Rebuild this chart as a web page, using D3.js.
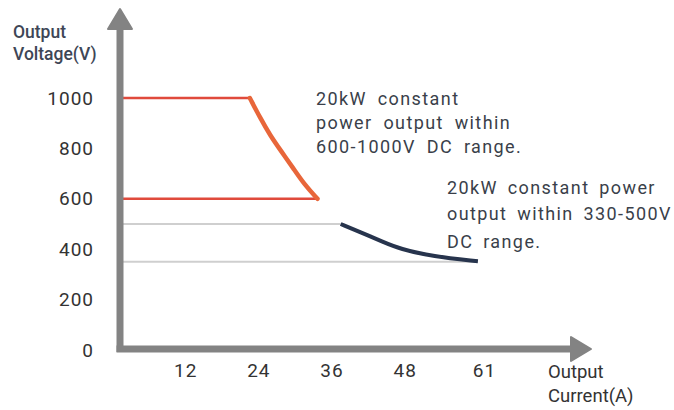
<!DOCTYPE html>
<html>
<head>
<meta charset="utf-8">
<script src="https://cdn.jsdelivr.net/npm/d3@7"></script>
<style>
  body { margin: 0; background: #fff; }
  text { font-family: Roboto, "Noto Sans", sans-serif; }
  .tick text { fill: #333; font-size: 19px; letter-spacing: 1px; }
</style>
</head>
<body>
<svg id="chart" width="674" height="410"></svg>
<script>
// values
var voltTicks = [0, 200, 400, 600, 800, 1000];
var currTicks = [12, 24, 36, 48, 61];

// 600-1000V range: flat top, constant power curve, flat bottom
var highTop = [[0, 1000], [22.6, 1000]];
var highCurve = [[22.6, 1000], [24.3, 921], [25.9, 853], [27.8, 787], [29.7, 722], [31.6, 655], [33.7, 600]];
var highBottom = [[0, 600], [33.7, 600]];

// 330-500V range
var lowCurve = [[37.5, 500], [40.7, 468], [44.4, 429], [47.2, 401], [52.6, 371], [60, 352]];
var lowGuides = [[[0, 500], [37.5, 500]], [[0, 350], [60, 350]]];

var note1 = ["20kW constant", "power output within", "600-1000V DC range."];
var note2 = ["20kW constant power", "output within 330-500V", "DC range."];

var svg = d3.select("#chart");

var x = d3.scaleLinear().domain([0, 61]).range([112, 484]);
var y = d3.scaleLinear().domain([0, 1000]).range([350, 98]);
var axisX = 120, axisY = 349;

var line = d3.line()
    .x(function(d) { return Math.max(x(d[0]), axisX); })
    .y(function(d) { return y(d[1]); });
var curve = d3.line()
    .x(function(d) { return x(d[0]); })
    .y(function(d) { return y(d[1]); })
    .curve(d3.curveBasis);

// gray guides
svg.selectAll(".guide")
    .data(lowGuides)
    .enter()
    .append("path")
    .attr("class", "guide")
    .attr("d", line)
    .attr("fill", "none")
    .attr("stroke", "#cfcfcf")
    .attr("stroke-width", 2);

// red flat lines
svg.selectAll(".flat")
    .data([highTop, highBottom])
    .enter()
    .append("path")
    .attr("class", "flat")
    .attr("d", line)
    .attr("fill", "none")
    .attr("stroke", "#e04a3c")
    .attr("stroke-width", 2.5);

svg.append("path")
    .attr("d", curve(highCurve))
    .attr("fill", "none")
    .attr("stroke", "#e8663a")
    .attr("stroke-width", 4.5)
    .attr("stroke-linecap", "round");

svg.append("path")
    .attr("d", curve(lowCurve))
    .attr("fill", "none")
    .attr("stroke", "#27344d")
    .attr("stroke-width", 4)
    .attr("stroke-linecap", "butt");

// axes with arrows
svg.append("line")
    .attr("x1", axisX).attr("y1", 24)
    .attr("x2", axisX).attr("y2", axisY + 3)
    .attr("stroke", "#838383").attr("stroke-width", 7);
svg.append("line")
    .attr("x1", axisX - 3.5).attr("y1", axisY)
    .attr("x2", 578).attr("y2", axisY)
    .attr("stroke", "#838383").attr("stroke-width", 7);
svg.append("path")
    .attr("d", "M" + axisX + ",9 L" + (axisX + 12) + ",29 L" + (axisX - 12) + ",29 Z")
    .attr("fill", "#838383")
    .attr("stroke", "#838383").attr("stroke-width", 2).attr("stroke-linejoin", "round");
svg.append("path")
    .attr("d", "M591," + axisY + " L571," + (axisY - 12) + " L571," + (axisY + 12) + " Z")
    .attr("fill", "#838383")
    .attr("stroke", "#838383").attr("stroke-width", 2).attr("stroke-linejoin", "round");

// tick labels
svg.append("g")
    .attr("transform", "translate(0," + axisY + ")")
    .call(d3.axisBottom(x).tickValues(currTicks).tickSize(0).tickPadding(15).tickFormat(d3.format("d")))
    .call(function(g) { g.select(".domain").remove(); });

svg.append("g")
    .attr("transform", "translate(" + axisX + ",0)")
    .call(d3.axisLeft(y).tickValues(voltTicks).tickSize(0).tickPadding(26).tickFormat(d3.format("d")))
    .call(function(g) { g.select(".domain").remove(); });

// axis titles
var titleColor = "#3e4656";
svg.append("text").attr("x", 13).attr("y", 38)
    .attr("font-size", 17.5).attr("font-weight", 500).attr("fill", titleColor).text("Output");
svg.append("text").attr("x", 13).attr("y", 60)
    .attr("font-size", 17.5).attr("font-weight", 500).attr("fill", titleColor).text("Voltage(V)");
svg.append("text").attr("x", 548).attr("y", 378)
    .attr("font-size", 18.5).attr("fill", "#333").text("Output");
svg.append("text").attr("x", 548).attr("y", 402)
    .attr("font-size", 18.5).attr("fill", "#333").text("Current(A)");

// annotations
function note(lines, x0, ys, ws) {
    svg.selectAll(null)
        .data(lines)
        .enter()
        .append("text")
        .attr("x", x0)
        .attr("y", function(d, i) { return ys[i]; })
        .attr("font-size", 18)
        .attr("letter-spacing", 1.4)
        .attr("word-spacing", ws)
        .attr("fill", "#3a3f4a")
        .text(function(d) { return d; });
}
note(note1, 316, [105, 129, 153], 5);
note(note2, 447, [194, 220, 248], 4);
</script>
</body>
</html>
